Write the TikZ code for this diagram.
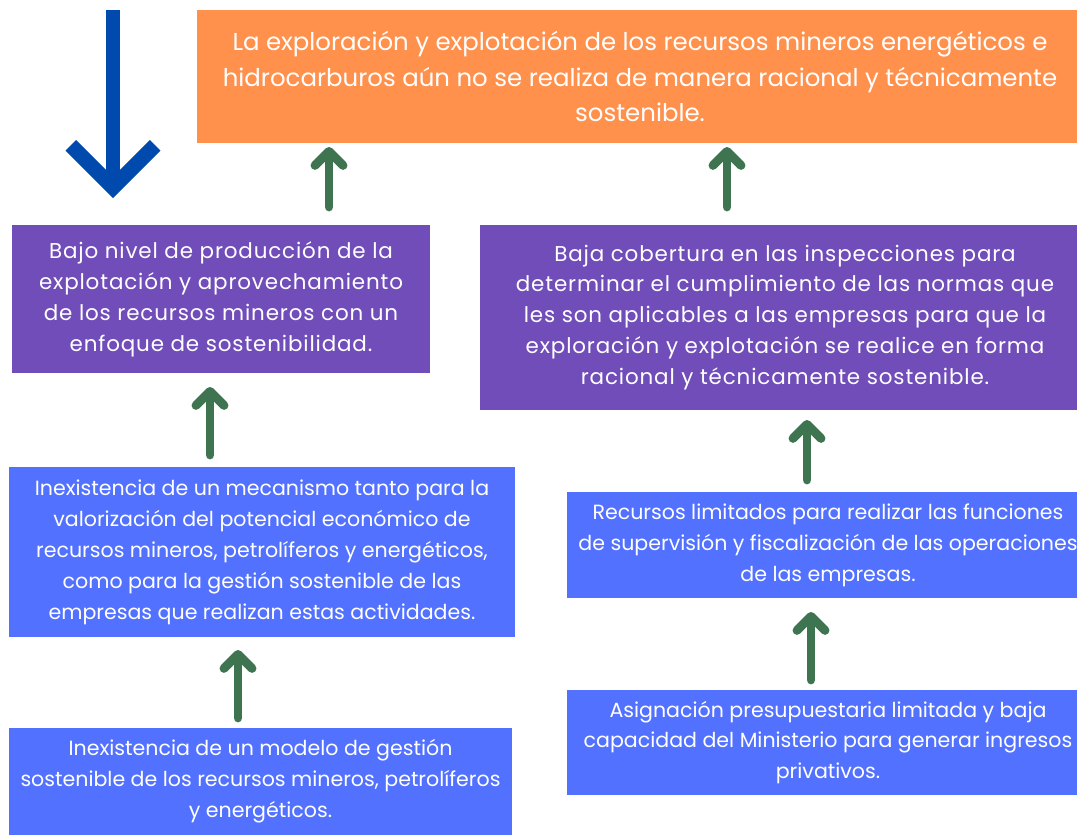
\documentclass[tikz,border=0pt]{standalone}
\usepackage{fontspec}
\setmainfont{Poppins}
\newfontfamily\moradofont[LetterSpace=4]{Poppins}
\usetikzlibrary{arrows.meta}
\definecolor{naranja}{HTML}{FF914D}
\definecolor{morado}{HTML}{714DB9}
\definecolor{azul}{HTML}{5271FF}
\definecolor{verde}{HTML}{3E7450}
\definecolor{azulosc}{HTML}{004AAD}

\begin{document}
\begin{tikzpicture}[x=0.02cm, y=-0.02cm,
    caja/.style={fill=#1, text=white, inner sep=0pt, align=center},
    letra/.style={font=\fontsize{11.7}{17.6}\selectfont},
    letramor/.style={font=\moradofont\fontsize{12.2}{17.6}\selectfont},
    flecha/.style={verde, line width=5pt, line cap=round,
      -{Straight Barb[length=8pt,width=16pt,line cap=round,line join=round]}}]
    \useasboundingbox (0,0) rectangle (1077,835);
    \clip (0,0) rectangle (1077,835);
    % cajas
    \node (obj) [caja=naranja, font=\fontsize{13.9}{20.4}\selectfont,
      minimum width=886*0.02cm, minimum height=133*0.02cm] at (640,76.5)
      {La exploración y explotación de los recursos mineros energéticos e\\
       hidrocarburos aún no se realiza de manera racional y técnicamente\\ sostenible.};
    \node (bn) [caja=morado, letramor, minimum width=418*0.02cm, minimum height=148*0.02cm] at (221,299)
      {Bajo nivel de producción de la\\ explotación y aprovechamiento\\
       de los recursos mineros con un\\ enfoque de sostenibilidad.};
    \node (bc) [caja=morado, letramor, minimum width=610*0.02cm, minimum height=185*0.02cm] at (785,317.5)
      {Baja cobertura en las inspecciones para\\
       determinar el cumplimiento de las normas que\\ les son aplicables a las empresas para que la\\
       exploración y explotación se realice en forma\\ racional y técnicamente sostenible.};
    \node (im) [caja=azul, letra, minimum width=506*0.02cm, minimum height=170*0.02cm] at (262,552)
      {Inexistencia de un mecanismo tanto para la\\ valorización del potencial económico de\\
       recursos mineros, petrolíferos y energéticos,\\ como para la gestión sostenible de las\\
       empresas que realizan estas actividades.};
    \node (mg) [caja=azul, letra, minimum width=503*0.02cm, minimum height=107*0.02cm] at (260.5,781.5)
      {Inexistencia de un modelo de gestión\\
       sostenible de los recursos mineros, petrolíferos\\ y energéticos.};
    \node (rl) [caja=azul, letra, minimum width=522*0.02cm, minimum height=106*0.02cm] at (828,545)
      {Recursos limitados para realizar las funciones\\
       de supervisión y fiscalización de las operaciones\\ de las empresas.};
    \node (ap) [caja=azul, letra, minimum width=522*0.02cm, minimum height=105*0.02cm] at (828,742.5)
      {Asignación presupuestaria limitada y baja\\
       capacidad del Ministerio para generar ingresos\\ privativos.};
    % flechas
    \coordinate (a0) at (113,10);   \coordinate (a1) at (113,198);
    \coordinate (g1b) at (329,207); \coordinate (g1t) at (329,147);
    \coordinate (g2b) at (727,207); \coordinate (g2t) at (727,147);
    \coordinate (g3b) at (210,455); \coordinate (g3t) at (210,387);
    \coordinate (g4b) at (238,718); \coordinate (g4t) at (238,650);
    \coordinate (g5b) at (807,480); \coordinate (g5t) at (807,420);
    \coordinate (g6b) at (811,680); \coordinate (g6t) at (811,612);
    \draw[azulosc, line width=8.5pt, -{Straight Barb[length=24pt,width=48pt]}] (a0) -- (a1);
    \draw[flecha] (g1b) -- (g1t);
    \draw[flecha] (g2b) -- (g2t);
    \draw[flecha] (g3b) -- (g3t);
    \draw[flecha] (g4b) -- (g4t);
    \draw[flecha] (g5b) -- (g5t);
    \draw[flecha] (g6b) -- (g6t);
\end{tikzpicture}
\end{document}
